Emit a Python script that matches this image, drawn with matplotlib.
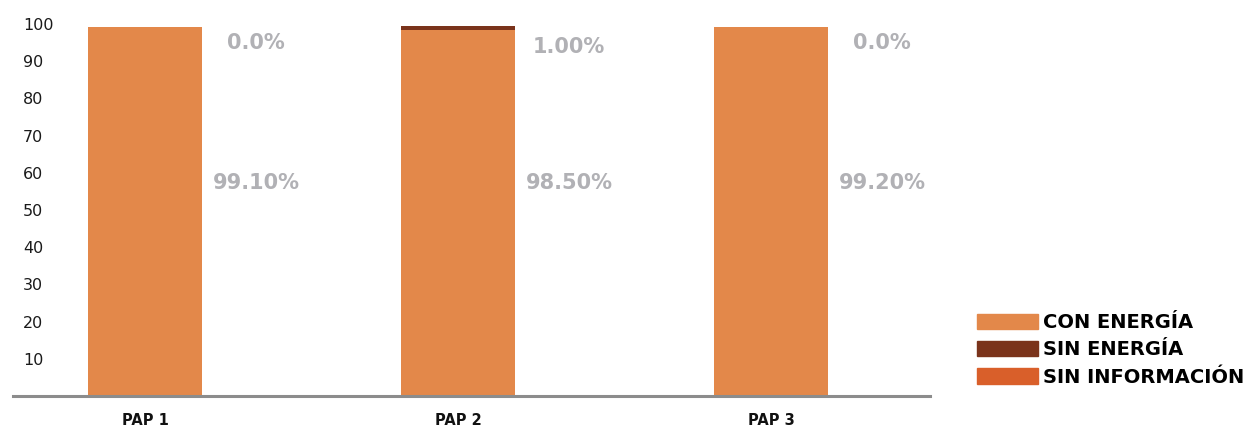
import matplotlib.pyplot as plt
from matplotlib.patches import Patch

categorias = ['PAP 1', 'PAP 2', 'PAP 3']
con_energia = [99.1, 98.5, 99.2]
sin_energia = [0.0, 1.0, 0.0]
sin_informacion = [0.0, 0.0, 0.0]
etiquetas_con = ['99.10%', '98.50%', '99.20%']
etiquetas_sin = ['0.0%', '1.00%', '0.0%']
y_ticks = [10, 20, 30, 40, 50, 60, 70, 80, 90, 100]

c_con = '#E3884A'
c_sin = '#7A331B'
c_info = '#D95F2A'
c_label = '#B1B1B5'

fig = plt.figure(figsize=(12.47, 4.33), dpi=100)
ax = fig.add_axes([13 / 1247, 37 / 433, 917 / 1247, 396 / 433])

x = list(range(len(categorias)))
ax.bar(x, con_energia, width=0.365, color=c_con)
ax.bar(x, sin_energia, width=0.365, bottom=con_energia, color=c_sin)
base2 = [a + b for a, b in zip(con_energia, sin_energia)]
ax.bar(x, sin_informacion, width=0.365, bottom=base2, color=c_info)

# etiquetas a la derecha de cada barra
for i in x:
    ax.text(i + 0.355, 57.3, etiquetas_con[i], ha='center', va='center',
            fontsize=15, fontweight='heavy', color=c_label)
    ax.text(i + 0.355, 95.0 if sin_energia[i] == 0 else 93.9, etiquetas_sin[i],
            ha='center', va='center', fontsize=15, fontweight='heavy', color=c_label)

ax.set_xlim(-0.4217, 2.508)
ax.set_ylim(0, 106.45)
ax.set_yticks(y_ticks)
ax.set_yticklabels([str(v) for v in y_ticks], fontsize=11.5, color='#1a1a1a')
for t in ax.get_yticklabels():
    t.set_ha('left')
ax.tick_params(axis='y', length=0, pad=-7.2)
ax.set_xticks(x)
ax.set_xticklabels(categorias, fontsize=10.5, fontweight='bold', color='#111111')
ax.tick_params(axis='x', length=0, pad=12)

for s in ['top', 'right', 'left']:
    ax.spines[s].set_visible(False)
ax.spines['bottom'].set_color('#8C8C8C')
ax.spines['bottom'].set_linewidth(2.2)

handles = [Patch(color=c_con), Patch(color=c_sin), Patch(color=c_info)]
leg = fig.legend(handles, ['CON ENERGÍA', 'SIN ENERGÍA', 'SIN INFORMACIÓN'],
                 loc='upper left', bbox_to_anchor=(977 / 1247, 1 - 313 / 433),
                 frameon=False, borderpad=0, borderaxespad=0,
                 handlelength=3.14, handleheight=0.82, handletextpad=0.25,
                 labelspacing=0.43, prop={'size': 14, 'weight': 'bold'})

fig.savefig('out.png', dpi=100)
